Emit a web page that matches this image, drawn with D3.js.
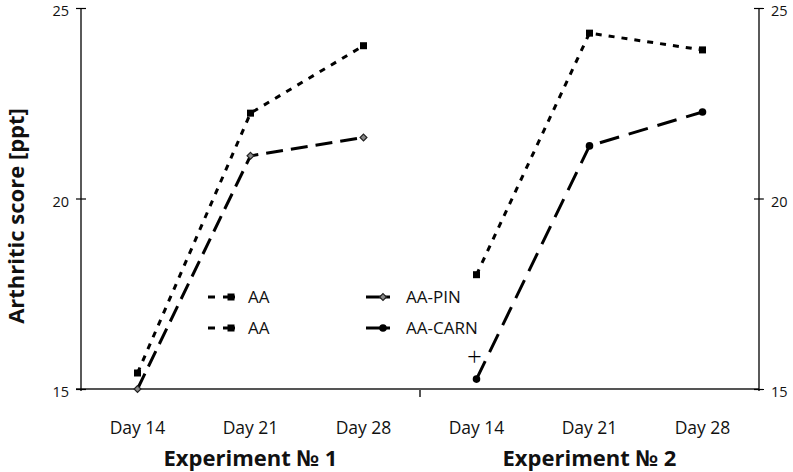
<!DOCTYPE html>
<html><head><meta charset="utf-8">
<script src="https://cdn.jsdelivr.net/npm/d3@7"></script>
<style>body{margin:0;background:#fff}svg{display:block}text{font-family:"Open Sans",sans-serif}</style>
</head><body><svg id="c" width="793" height="472"></svg>
<script>
const categories = ["Day 14","Day 21","Day 28","Day 14","Day 21","Day 28"];
const experiments = ["Experiment № 1","Experiment № 2"];
const exp1AA   = [15.42, 22.24, 24.01];
const exp1PIN  = [15.00, 21.12, 21.60];
const exp2AA   = [18.00, 24.34, 23.90];
const exp2CARN = [15.26, 21.38, 22.27];
const yTicks = [15, 20, 25];
const legendLabels = ["AA", "AA", "AA-PIN", "AA-CARN"];
const sigMark = {exp: 1, day: 0, value: 15.85, label: "+"};

const svg = d3.select("#c");
const L = 81, R = 759, T = 8, B = 389;
const x = d3.scaleBand().domain(d3.range(categories.length)).range([L, R]);
const y = d3.scaleLinear().domain([15, 25]).range([B, T]);
const cx = i => x(i) + x.bandwidth() / 2;

// bottom axis
svg.append("line").attr("x1", L - 5).attr("x2", R).attr("y1", B).attr("y2", B)
  .attr("stroke", "#555").attr("stroke-width", 2);
svg.append("line").attr("x1", (L + R) / 2).attr("x2", (L + R) / 2).attr("y1", B).attr("y2", B + 8)
  .attr("stroke", "#555").attr("stroke-width", 2);

// axes
const yl = svg.append("g").attr("transform", `translate(${L},0)`)
  .call(d3.axisLeft(y).tickValues(yTicks).tickSize(5).tickPadding(7));
const yr = svg.append("g").attr("transform", `translate(${R},0)`)
  .call(d3.axisRight(y).tickValues(yTicks).tickSize(5).tickPadding(7));
[yl, yr].forEach(g => {
  g.select(".domain").attr("stroke", "#000").attr("stroke-width", 1.3).attr("d", `M0,${T}V${B + 2}`);
  g.selectAll(".tick line").attr("x1", -5).attr("x2", 5).attr("stroke", "#000").attr("stroke-width", 1.2);
  g.selectAll(".tick text").attr("font-size", 14.5).attr("fill", "#111").attr("dy", "7.6px");
});

svg.append("g").selectAll("text").data(categories).join("text")
  .attr("x", (d, i) => cx(i)).attr("y", 434).attr("text-anchor", "middle")
  .attr("font-size", 17.5).attr("fill", "#111").text(d => d);
svg.append("g").selectAll("text").data(experiments).join("text")
  .attr("x", (d, i) => cx(i * 3 + 1)).attr("y", 466).attr("text-anchor", "middle")
  .attr("font-size", 22).attr("font-weight", "bold").attr("fill", "#111").text(d => d);
svg.append("text").attr("transform", "translate(24,216) rotate(-90)")
  .attr("text-anchor", "middle").attr("font-size", 22).attr("font-weight", "bold")
  .attr("fill", "#111").text("Arthritic score [ppt]");

const line = d3.line().x(d => d[0]).y(d => d[1]);
const series = [
  {vals: exp1AA, off: 0, dash: "6,7", marker: "square"},
  {vals: exp1PIN, off: 0, dash: "17,8", marker: "diamond"},
  {vals: exp2AA, off: 3, dash: "6,7", marker: "square"},
  {vals: exp2CARN, off: 3, dash: "20,10", marker: "circle"}
];
function marker(g, type, px, py) {
  if (type === "square") g.append("rect").attr("x", px - 3.5).attr("y", py - 3.5).attr("width", 7).attr("height", 7).attr("fill", "#000");
  else if (type === "diamond") g.append("path").attr("d", d3.symbol(d3.symbolDiamond2, 30)()).attr("transform", `translate(${px},${py})`).attr("fill", "#888").attr("stroke", "#222").attr("stroke-width", 1.2);
  else g.append("circle").attr("cx", px).attr("cy", py).attr("r", 3.8).attr("fill", "#000");
}
series.forEach(s => {
  const pts = s.vals.map((v, i) => [cx(i + s.off), y(v)]);
  svg.append("path").attr("d", line(pts)).attr("fill", "none").attr("stroke", "#000")
    .attr("stroke-width", 3).attr("stroke-dasharray", s.dash);
  const g = svg.append("g");
  pts.forEach(p => marker(g, s.marker, p[0], p[1]));
});
svg.append("text").attr("x", cx(sigMark.exp * 3 + sigMark.day) - 2).attr("y", y(sigMark.value) + 9)
  .attr("text-anchor", "middle").attr("font-size", 26).attr("font-weight", 300).attr("fill", "#000").text(sigMark.label);

// legend
const legPos = [[208, 297, "dash", "square"], [208, 328, "dash", "square"], [366, 297, "solid", "diamond"], [366, 328, "solid", "circle"]];
legendLabels.forEach((lab, i) => {
  const [lx, ly, st, mk] = legPos[i];
  const g = svg.append("g");
  if (st === "dash") {
    g.append("line").attr("x1", lx).attr("x2", lx + 7).attr("y1", ly).attr("y2", ly).attr("stroke", "#000").attr("stroke-width", 3);
    g.append("line").attr("x1", lx + 15).attr("x2", lx + 27).attr("y1", ly).attr("y2", ly).attr("stroke", "#000").attr("stroke-width", 3);
    marker(g, mk, lx + 23, ly);
  } else {
    g.append("line").attr("x1", lx).attr("x2", lx + 24).attr("y1", ly).attr("y2", ly).attr("stroke", "#000").attr("stroke-width", 3);
    marker(g, mk, lx + 17, ly);
  }
  g.append("text").attr("x", lx + 40).attr("y", ly + 6).attr("font-size", 17).attr("fill", "#111").text(lab);
});
</script></body></html>
